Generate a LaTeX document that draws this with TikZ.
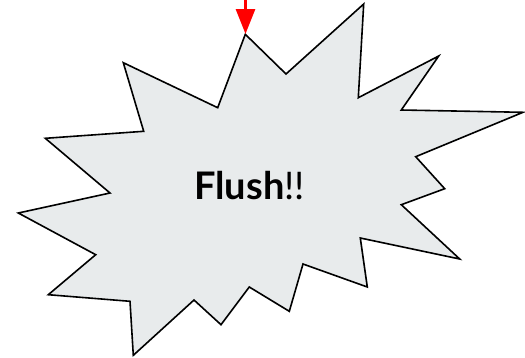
\documentclass[tikz,border=0pt]{standalone}
\usepackage{fontspec}
\setmainfont{Lato}
\usetikzlibrary{arrows.meta}
\definecolor{burstfill}{RGB}{232,235,236}
\tikzset{
  burst/.style={draw=black, fill=burstfill, line width=1.6bp, line join=miter},
  redarrow/.style={draw=red, line width=3bp, -{Triangle[length=25bp,width=19bp]}},
  label/.style={font=\fontsize{38bp}{44bp}\selectfont, inner sep=0pt}
}
\begin{document}
\begin{tikzpicture}[x=1bp,y=-1bp]
\useasboundingbox (0,0) rectangle (525,357);
\draw[burst] (249.3,287) -- (221,324.7) -- (194,300) -- (133.3,355.3) -- (130,301.3)
  -- (48.3,294.7) -- (95.7,254.7) -- (18.3,213) -- (110,193) -- (45.3,138.3)
  -- (143.7,131.3) -- (123.3,62.7) -- (217.7,107.7) -- (245.3,34.3) -- (286,74)
  -- (363.7,4) -- (358.3,97.7) -- (438.7,56) -- (401.3,110) -- (523,112.3)
  -- (415.7,156.7) -- (444.7,188.7) -- (401.3,204.7) -- (459.7,259) -- (360.3,238)
  -- (367.3,287) -- (303,264) -- (289.3,311.3) -- cycle;
\coordinate (tip) at (245.5,34);
\coordinate (top) at (245.5,0);
\draw[redarrow] (top) -- (tip);
\node[label, anchor=base] (txt) at (249.5,199) {\textbf{Flush}!!};
\end{tikzpicture}
\end{document}
